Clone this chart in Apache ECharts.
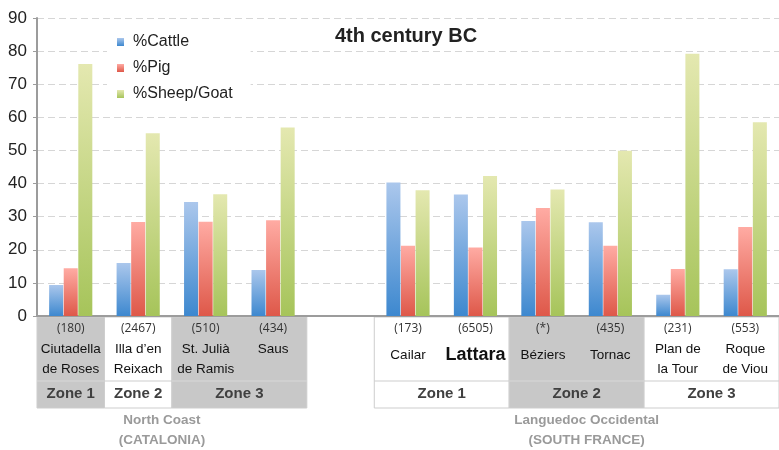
<!DOCTYPE html>
<html><head><meta charset="utf-8">
<script src="https://cdn.jsdelivr.net/npm/echarts@6/dist/echarts.min.js"></script>
<style>html,body{margin:0;padding:0;background:#fff}#c{width:779px;height:450px}</style>
</head><body><div id="c"></div>
<script>
// ---- data ----
const sites = ['Ciutadella\nde Roses', 'Illa d\u2019en\nReixach', 'St. Julià\nde Ramis', 'Saus', '', 'Cailar', 'Lattara', 'Béziers', 'Tornac', 'Plan de\nla Tour', 'Roque\nde Viou'];
const sampleSizes = ['(180)', '(2467)', '(510)', '(434)', '', '(173)', '(6505)', '(*)', '(435)', '(231)', '(553)'];
const cattle = [9.4, 16.0, 34.4, 13.9, null, 40.3, 36.7, 28.7, 28.3, 6.4, 14.1];
const pig = [14.4, 28.4, 28.5, 28.9, null, 21.2, 20.7, 32.6, 21.2, 14.2, 26.9];
const sheepGoat = [76.1, 55.2, 36.8, 56.9, null, 38.0, 42.3, 38.2, 49.9, 79.2, 58.5];
const yTicks = [0, 10, 20, 30, 40, 50, 60, 70, 80, 90];
const zones = [
  { label: 'Zone 1', from: 0, to: 0 },
  { label: 'Zone 2', from: 1, to: 1 },
  { label: 'Zone 3', from: 2, to: 3 },
  { label: 'Zone 1', from: 5, to: 6 },
  { label: 'Zone 2', from: 7, to: 8 },
  { label: 'Zone 3', from: 9, to: 10 }
];
const zoneShaded = [true, false, true, false, true, false];
const regions = [
  { label: 'North Coast\n(CATALONIA)', from: 0, to: 3 },
  { label: 'Languedoc Occidental\n(SOUTH FRANCE)', from: 5, to: 10 }
];
const boldSite = 'Lattara';

// ---- chart ----
const chart = echarts.init(document.getElementById('c'), null, { renderer: 'canvas' });
function grad(top, bottom) {
  return { type: 'linear', x: 0, y: 0, x2: 0, y2: 1, colorStops: [{ offset: 0, color: top }, { offset: 1, color: bottom }] };
}
const FONT = 'Liberation Sans, Arial, sans-serif';
const option = {
  animation: false,
  title: {
    text: '4th century BC', left: 401, top: 21, textAlign: 'center',
    textStyle: { fontFamily: FONT, fontSize: 20, fontWeight: 'bold', color: '#222' }
  },
  legend: {
    orient: 'vertical', left: 107, top: 25,
    padding: [8, 18, 8, 10], backgroundColor: '#fff',
    itemWidth: 7, itemHeight: 8, itemGap: 8, icon: 'rect',
    textStyle: { fontFamily: FONT, fontSize: 16, color: '#222', lineHeight: 18, padding: [0, 0, 0, 4] },
    data: ['%Cattle', '%Pig', '%Sheep/Goat']
  },
  grid: { left: 37, right: 0, top: 18, bottom: 134, containLabel: false },
  xAxis: {
    type: 'category', data: sites,
    axisLine: { lineStyle: { color: '#9c9c9c', width: 2 } },
    axisTick: { length: 4, lineStyle: { color: '#b0b0b0' } },
    axisLabel: {
      interval: 0, margin: 2, hideOverlap: false, verticalAlign: 'top',
      formatter: function (v, i) {
        const parts = [];
        parts.push('{c|' + sampleSizes[i] + '}');
        if (!v) return '';
        const lines = v.split('\n');
        if (lines.length > 1) {
          lines.forEach(l => parts.push('{n|' + l + '}'));
        } else if (v === boldSite) {
          parts.push('{b|' + v + '}');
        } else if (i > 4) {
          parts.push('{m|' + v + '}');
        } else {
          parts.push('{n|' + v + '}');
        }
        return parts.join('\n');
      },
      rich: {
        c: { fontFamily: 'Open Sans', fontSize: 12, color: '#333', lineHeight: 21 },
        n: { fontFamily: FONT, fontSize: 13.5, color: '#111', lineHeight: 20 },
        m: { fontFamily: FONT, fontSize: 13.5, color: '#111', lineHeight: 32 },
        b: { fontFamily: FONT, fontSize: 18, fontWeight: 'bold', color: '#111', lineHeight: 32 }
      }
    }
  },
  yAxis: {
    type: 'value', min: yTicks[0], max: yTicks[yTicks.length - 1], interval: yTicks[1] - yTicks[0],
    axisLine: { show: true, lineStyle: { color: '#9c9c9c', width: 2 } },
    axisTick: { show: true, length: 4, lineStyle: { color: '#9c9c9c' } },
    axisLabel: { fontFamily: FONT, fontSize: 17, color: '#222', margin: 10 },
    splitLine: { lineStyle: { color: '#d6d6d6', width: 1, type: [7, 4] } }
  },
  series: [
    { name: '%Cattle', type: 'bar', data: cattle, barGap: '4%', barCategoryGap: '36%',
      itemStyle: { color: grad('#abc7ec', '#3d88cf') } },
    { name: '%Pig', type: 'bar', data: pig,
      itemStyle: { color: grad('#ffaba3', '#de5849') } },
    { name: '%Sheep/Goat', type: 'bar', data: sheepGoat,
      itemStyle: { color: grad('#e4e8b0', '#a6c45a') } }
  ]
};
chart.setOption(option);

// ---- table under the axis, positioned from the category scale ----
const c0 = chart.convertToPixel({ xAxisIndex: 0 }, 0);
const c1 = chart.convertToPixel({ xAxisIndex: 0 }, 1);
const band = c1 - c0;
const axisY = chart.convertToPixel({ yAxisIndex: 0 }, 0);
const left = i => chart.convertToPixel({ xAxisIndex: 0 }, i) - band / 2;
const right = i => chart.convertToPixel({ xAxisIndex: 0 }, i) + band / 2;
const tTop = axisY + 1, tMid = axisY + 65, tBot = axisY + 92;
const els = [];
const BORDER = '#cdcdcd', SHADE = '#c8c8c8';
zones.forEach((z, k) => {
  const x1 = left(z.from), x2 = right(z.to);
  els.push({ type: 'rect', z: -10, shape: { x: x1, y: tTop, width: x2 - x1, height: tBot - tTop },
    style: { fill: zoneShaded[k] ? SHADE : '#fff', stroke: BORDER, lineWidth: 1 } });
  els.push({ type: 'line', z: -9, shape: { x1: x1, y1: tMid, x2: x2, y2: tMid }, style: { stroke: zoneShaded[k] ? '#d8d8d8' : BORDER, lineWidth: 1 } });
  els.push({ type: 'text', z: 5, x: (x1 + x2) / 2, y: (tMid + tBot) / 2 - 1,
    style: { text: z.label, fontFamily: FONT, fontSize: 15, fontWeight: 'bold', fill: '#404040', align: 'center', verticalAlign: 'middle' } });
});
regions.forEach((r, k) => {
  const cx = (left(r.from) + right(r.to)) / 2 + (k === 0 ? -10 : 10);
  els.push({ type: 'text', z: 5, x: cx, y: tBot + 22,
    style: { text: r.label, fontFamily: FONT, fontSize: 13.5, fontWeight: 'bold', fill: '#9a9a9a', align: 'center', verticalAlign: 'middle', lineHeight: 20 } });
});
chart.setOption({ graphic: { elements: els } });
</script>
</body></html>
